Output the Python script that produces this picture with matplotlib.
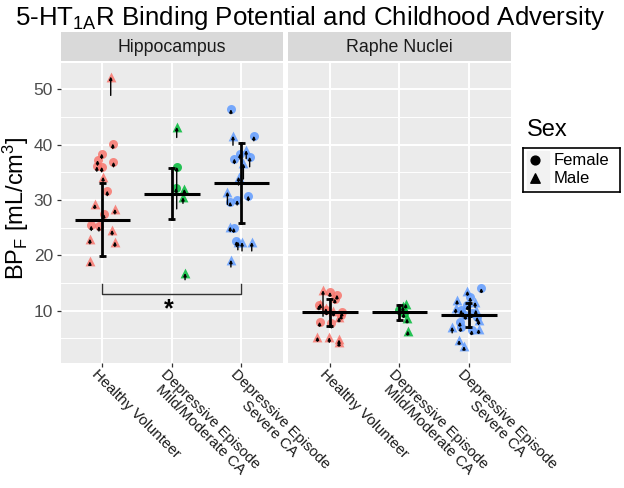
import matplotlib
matplotlib.use("Agg")
import matplotlib.pyplot as plt

plt.rcParams['font.family'] = ['Liberation Sans', 'DejaVu Sans']
plt.rcParams['mathtext.fontset'] = 'custom'
plt.rcParams['mathtext.rm'] = 'Liberation Sans'
plt.rcParams['mathtext.it'] = 'Liberation Sans:italic'
plt.rcParams['mathtext.bf'] = 'Liberation Sans:bold'

# ---------------- data ----------------
regions = ["Hippocampus", "Raphe Nuclei"]
groups = ["Healthy Volunteer", "Depressive Episode\nMild/Moderate CA", "Depressive Episode\nSevere CA"]
group_colors = ["#F8766D", "#00BA38", "#619CFF"]

# Hippocampus
hip_hv_val = [52.3, 40.2, 38.4, 37.2, 36.1, 36.0, 36.9, 34.2, 31.7, 29.3, 28.4, 27.5, 25.4, 25.3, 24.6, 23.0, 22.5, 18.9]
hip_hv_sex = ["M", "F", "F", "F", "F", "F", "F", "M", "F", "M", "M", "F", "F", "F", "M", "M", "M", "M"]
hip_hv_base = [48.9, 39.3, 37.5, 36.3, 35.2, 35.1, 36.0, 33.4, 30.8, 28.5, 27.5, 26.6, 24.5, 24.4, 23.7, 22.1, 21.6, 18.2]
hip_hv_jit = [0.12, 0.15, -0.01, -0.07, -0.08, -0.01, 0.16, 0.01, 0.07, -0.11, 0.18, 0.02, -0.16, -0.05, 0.14, -0.18, 0.18, -0.18]

hip_mm_val = [43.2, 36.0, 32.2, 32.0, 30.5, 16.8]
hip_mm_sex = ["M", "F", "F", "M", "M", "M"]
hip_mm_base = [41.3, 28.4, 31.3, 31.1, 29.4, 15.6]
hip_mm_jit = [0.07, 0.07, 0.06, 0.18, 0.16, 0.19]

hip_sv_val = [46.4, 41.6, 41.6, 38.4, 39.0, 37.5, 37.8, 36.6, 34.2, 31.5, 29.7, 30.0, 30.8, 25.2, 25.0, 22.6, 22.5, 22.4, 22.4, 19.2]
hip_sv_sex = ["F", "M", "F", "F", "M", "F", "F", "M", "M", "M", "F", "F", "F", "M", "F", "F", "M", "M", "M", "M"]
hip_sv_base = [45.6, 39.9, 40.7, 37.4, 37.5, 36.6, 36.0, 33.8, 32.7, 29.2, 29.0, 29.1, 29.9, 24.3, 24.2, 21.6, 21.0, 20.8, 20.8, 17.9]
hip_sv_jit = [-0.15, -0.12, 0.18, -0.02, 0.07, -0.10, 0.12, 0.03, -0.04, -0.20, -0.16, -0.06, 0.10, -0.16, -0.11, -0.07, -0.05, 0.01, 0.15, -0.15]

# Raphe nuclei
rn_hv_val = [13.7, 13.4, 12.9, 12.2, 11.3, 11.0, 10.5, 10.1, 9.9, 9.8, 9.3, 8.8, 8.0, 7.7, 5.3, 5.2, 4.8, 4.4]
rn_hv_sex = ["M", "F", "F", "F", "M", "F", "M", "F", "M", "F", "F", "M", "F", "F", "M", "M", "M", "M"]
rn_hv_base = [9.0, 12.6, 12.1, 11.4, 10.5, 10.2, 9.7, 9.3, 9.1, 9.0, 8.5, 8.0, 7.2, 6.9, 4.5, 4.3, 4.0, 3.6]
rn_hv_jit = [-0.10, 0.00, 0.10, 0.07, -0.14, -0.16, -0.06, -0.05, 0.05, 0.17, 0.16, 0.13, -0.15, 0.02, -0.18, -0.01, 0.13, 0.13]

rn_mm_val = [11.3, 10.8, 10.2, 9.6, 8.6, 6.4]
rn_mm_sex = ["M", "M", "F", "F", "M", "M"]
rn_mm_base = [10.5, 10.0, 9.4, 8.8, 7.8, 5.6]
rn_mm_jit = [0.09, 0.05, 0.00, 0.06, 0.11, 0.12]

rn_sv_val = [14.1, 13.6, 12.5, 12.0, 11.6, 11.0, 10.5, 10.2, 10.2, 9.8, 9.6, 9.3, 8.9, 8.4, 8.0, 7.1, 7.1, 6.7, 6.5, 4.7, 3.6]
rn_sv_sex = ["F", "M", "F", "M", "M", "F", "M", "F", "M", "M", "F", "F", "F", "M", "F", "M", "F", "M", "F", "M", "M"]
rn_sv_base = [13.3, 12.8, 11.7, 11.2, 10.6, 10.2, 9.6, 9.4, 9.3, 8.9, 8.8, 8.5, 8.1, 7.5, 7.2, 6.0, 6.3, 5.9, 5.7, 3.9, 2.9]
rn_sv_jit = [0.18, -0.02, 0.02, -0.17, 0.09, -0.02, -0.19, -0.11, 0.10, -0.08, 0.04, -0.05, 0.12, 0.14, -0.13, -0.24, -0.12, 0.14, 0.04, -0.14, -0.07]

# summary (center, lower, upper) per region/group
hip_center = [26.4, 31.0, 33.1]
hip_lower = [19.8, 26.5, 25.8]
hip_upper = [33.0, 35.8, 40.3]
rn_center = [9.8, 9.7, 9.2]
rn_lower = [7.2, 8.3, 7.0]
rn_upper = [12.2, 11.0, 11.4]

sig_pair = (0, 2)
sig_bracket_y = 13.0
sig_tip_y = 14.9
sig_label = "*"

yticks = [10, 20, 30, 40, 50]

# ---------------- figure ----------------
W, H = 624, 488
fig = plt.figure(figsize=(W / 100, H / 100), dpi=100)

def fx(px):
    return px / W

def fy(py):
    return 1 - py / H

panel_top, panel_bot = 63.3, 363.3
panels_x = [(60.7, 283.0), (288.3, 510.5)]
strip_top, strip_bot = 32.3, 61.0

ylim = (0.5, 54.7)

data = {
    0: [(hip_hv_val, hip_hv_sex, hip_hv_base, hip_hv_jit),
        (hip_mm_val, hip_mm_sex, hip_mm_base, hip_mm_jit),
        (hip_sv_val, hip_sv_sex, hip_sv_base, hip_sv_jit)],
    1: [(rn_hv_val, rn_hv_sex, rn_hv_base, rn_hv_jit),
        (rn_mm_val, rn_mm_sex, rn_mm_base, rn_mm_jit),
        (rn_sv_val, rn_sv_sex, rn_sv_base, rn_sv_jit)],
}
summ = {0: (hip_center, hip_lower, hip_upper), 1: (rn_center, rn_lower, rn_upper)}

axes = []
for p, (x0, x1) in enumerate(panels_x):
    ax = fig.add_axes([fx(x0), fy(panel_bot), fx(x1 - x0), (panel_bot - panel_top) / H])
    axes.append(ax)
    ax.set_facecolor("#EBEBEB")
    ax.set_xlim(-0.6, 2.6)
    ax.set_ylim(*ylim)
    for s in ax.spines.values():
        s.set_visible(False)
    # grid
    for yv in [5, 15, 25, 35, 45]:
        ax.axhline(yv, color="white", lw=0.7, zorder=0.5)
    for yv in yticks:
        ax.axhline(yv, color="white", lw=1.4, zorder=0.6)
    for xi in range(3):
        ax.axvline(xi, color="white", lw=1.4, zorder=0.6)

    # points
    for gi, (vals, sexes, bases, jits) in enumerate(data[p]):
        for v, s, b, j in zip(vals, sexes, bases, jits):
            mk = "o" if s == "F" else "^"
            ax.scatter([gi + j], [v], s=42 if mk == "o" else 50, marker=mk,
                       color=group_colors[gi], alpha=0.85, linewidths=0, zorder=2)
        for v, s, b, j in zip(vals, sexes, bases, jits):
            ax.annotate("", xy=(gi + j, v), xytext=(gi + j, b),
                        arrowprops=dict(arrowstyle="-|>", color="black", lw=1.0,
                                        mutation_scale=4, shrinkA=0, shrinkB=0),
                        zorder=3)

    # summaries
    c, lo, hi = summ[p]
    for gi in range(3):
        ax.plot([gi - 0.4, gi + 0.4], [c[gi], c[gi]], color="black", lw=2.2,
                solid_capstyle="butt", zorder=4)
        ax.plot([gi, gi], [lo[gi], hi[gi]], color="black", lw=2.0, zorder=4)
        for yv in (lo[gi], hi[gi]):
            ax.plot([gi - 0.05, gi + 0.05], [yv, yv], color="black", lw=2.0,
                    solid_capstyle="butt", zorder=4)

    ax.set_yticks(yticks)
    ax.set_xticks(range(3))
    ax.set_xticklabels([])
    ax.tick_params(axis="both", length=3, width=0.9, color="#333333")
    if p == 0:
        ax.set_yticklabels([str(t) for t in yticks], fontsize=12.5, color="#4D4D4D")
        ax.tick_params(axis="y", pad=2.5)
    else:
        ax.tick_params(axis="y", length=0, labelleft=False)

    # x labels
    for gi, lab in enumerate(groups):
        ax.annotate(lab, xy=(gi, 0), xycoords=("data", "axes fraction"),
                    xytext=(-2.5, -2.5), textcoords="offset points",
                    rotation=-45, rotation_mode="anchor", ha="left", va="top",
                    multialignment="center", fontsize=10.8, color="#1A1A1A",
                    linespacing=1.05, annotation_clip=False)

    # strip
    sax = fig.add_axes([fx(x0), fy(strip_bot), fx(x1 - x0), (strip_bot - strip_top) / H])
    sax.set_facecolor("#D9D9D9")
    sax.set_xticks([])
    sax.set_yticks([])
    for s in sax.spines.values():
        s.set_visible(False)
    sax.text(0.5, 0.47, regions[p], ha="center", va="center", fontsize=12.8,
             color="#1A1A1A", transform=sax.transAxes)

# significance bracket
ax = axes[0]
a, b = sig_pair
ax.plot([a, a, b, b], [sig_tip_y, sig_bracket_y, sig_bracket_y, sig_tip_y],
        color="#333333", lw=1.0, zorder=3)
ax.text((a + b) / 2 - 0.05, sig_bracket_y - 0.6, sig_label, ha="center", va="top",
        fontsize=18, fontweight="bold", color="black", zorder=3)

# title
fig.text(fx(15), fy(25), r"5-HT$_{\mathregular{1A}}$R Binding Potential and Childhood Adversity",
         fontsize=18.6, color="black", ha="left", va="baseline")

# y label
fig.text(fx(16), fy(208), r"BP$_{\mathregular{F}}$ [mL/cm$^{\mathregular{3}}$]", rotation=90,
         fontsize=17, ha="center", va="center", color="black")

# legend
fig.text(fx(527), fy(136), "Sex", fontsize=17, ha="left", va="baseline", color="black")
lax = fig.add_axes([fx(523), fy(192), fx(97), 44 / H])
lax.set_xlim(0, 97)
lax.set_ylim(44, 0)
lax.set_xticks([])
lax.set_yticks([])
for s in lax.spines.values():
    s.set_edgecolor("black")
    s.set_linewidth(1.2)
lax.add_patch(plt.Rectangle((4, 3), 22, 38, color="#F2F2F2", zorder=0))
lax.scatter([12], [12], marker="o", s=40, color="black", zorder=2)
lax.scatter([12], [30], marker="^", s=46, color="black", zorder=2)
lax.text(31, 12.5, "Female", fontsize=12, va="center", ha="left", color="black")
lax.text(31, 30.5, "Male", fontsize=12, va="center", ha="left", color="black")

fig.savefig("out.png", dpi=100)
